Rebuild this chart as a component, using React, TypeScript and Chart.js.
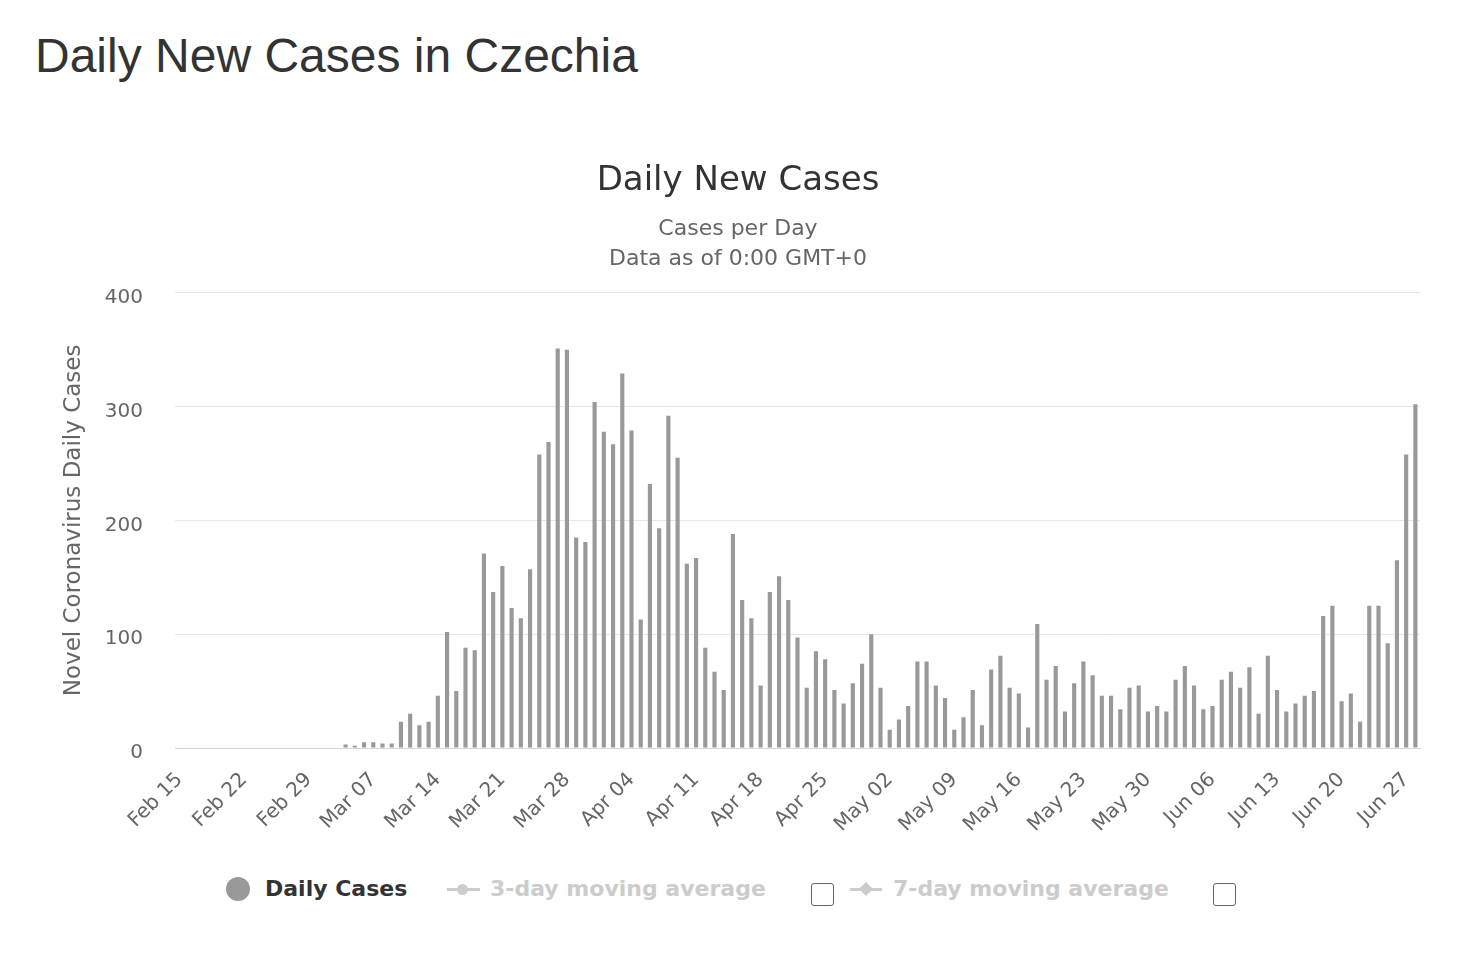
import React, { useEffect, useRef } from 'react';
import { Chart, registerables } from 'chart.js';

Chart.register(...registerables);

// Months covered by the category axis: [month, first day, last day]
const monthSpans: [string, number, number][] = [
  ['Feb', 15, 29],
  ['Mar', 1, 31],
  ['Apr', 1, 30],
  ['May', 1, 31],
  ['Jun', 1, 28],
];

const categories: string[] = [];
monthSpans.forEach(([m, a, b]) => {
  for (let d = a; d <= b; d++) categories.push(`${m} ${d < 10 ? '0' + d : d}`);
});

// Feb 15 .. Mar 03 : no cases reported
const casesFebToMar03: number[] = [
  0, 0, 0, 0, 0, 0, 0, 0, 0, 0, 0, 0, 0, 0, 0, 0, 0, 0,
];
// Mar 04 .. Mar 31
const casesMar: number[] = [
  3, 2, 5, 5, 4, 4, 23, 30, 20, 23, 46, 102, 50, 88, 86, 171, 137, 160, 123, 114,
  157, 258, 269, 351, 350, 185, 181, 304,
];
// Apr 01 .. Apr 30
const casesApr: number[] = [
  278, 267, 329, 279, 113, 232, 193, 292, 255, 162, 167, 88, 67, 51, 188, 130, 114, 55,
  137, 151, 130, 97, 53, 85, 78, 51, 39, 57, 74, 100,
];
// May 01 .. May 31
const casesMay: number[] = [
  53, 16, 25, 37, 76, 76, 55, 44, 16, 27, 51, 20, 69, 81, 53, 48, 18, 109, 60, 72,
  32, 57, 76, 64, 46, 46, 34, 53, 55, 32, 37,
];
// Jun 01 .. Jun 28
const casesJun: number[] = [
  32, 60, 72, 55, 34, 37, 60, 67, 53, 71, 30, 81, 51, 32, 39, 46, 50, 116, 125, 41,
  48, 23, 125, 125, 92, 165, 258, 302,
];

const dailyCases: number[] = [
  ...casesFebToMar03,
  ...casesMar,
  ...casesApr,
  ...casesMay,
  ...casesJun,
];

const yTicks: number[] = [0, 100, 200, 300, 400];
const xLabelEvery = 7;

const FONT = '"DejaVu Sans", "Lucida Grande", sans-serif';

export default function App() {
  const ref = useRef<HTMLCanvasElement | null>(null);

  useEffect(() => {
    document.body.style.margin = '0';
    if (!ref.current) return;
    const chart = new Chart(ref.current, {
      type: 'bar',
      data: {
        labels: categories,
        datasets: [
          {
            label: 'Daily Cases',
            data: dailyCases,
            backgroundColor: '#999999',
            borderWidth: 0,
            barPercentage: 0.45,
            categoryPercentage: 1,
          },
        ],
      },
      options: {
        responsive: false,
        animation: false,
        devicePixelRatio: 1,
        layout: { padding: { left: 56, right: 40, top: 0, bottom: 0 } },
        plugins: {
          legend: { display: false },
          tooltip: { enabled: false },
          title: {
            display: true,
            text: 'Daily New Cases',
            color: '#333333',
            font: { family: FONT, size: 34, weight: 'normal', lineHeight: 1.2 },
            padding: { top: 21, bottom: 6 },
          },
          subtitle: {
            display: true,
            text: ['Cases per Day', 'Data as of 0:00 GMT+0'],
            color: '#666666',
            font: { family: FONT, size: 22, weight: 'normal', lineHeight: 1.364 },
            padding: { top: 6, bottom: 19 },
          },
        },
        scales: {
          x: {
            grid: { display: false, drawTicks: false },
            border: { display: true, color: '#ccd6eb', width: 1 },
            ticks: {
              autoSkip: false,
              maxRotation: 45,
              minRotation: 45,
              padding: 20,
              color: '#666666',
              font: { family: FONT, size: 20 },
              callback: (_v: any, i: number) => (i % xLabelEvery === 0 ? categories[i] : ''),
            },
            afterFit: (s: any) => {
              s.height = 92;
            },
          },
          y: {
            min: yTicks[0],
            max: yTicks[yTicks.length - 1],
            afterBuildTicks: (s: any) => {
              s.ticks = yTicks.map((v) => ({ value: v }));
            },
            ticks: {
              padding: 32,
              labelOffset: 5,
              color: '#666666',
              font: { family: FONT, size: 20 },
            },
            grid: {
              drawTicks: false,
              color: (c: any) => (c.tick && c.tick.value === 0 ? '#ccd6eb' : '#e6e6e6'),
            },
            border: { display: false },
            title: {
              display: true,
              text: 'Novel Coronavirus Daily Cases',
              color: '#666666',
              font: { family: FONT, size: 23 },
              padding: { top: 4, bottom: 4 },
            },
            afterFit: (s: any) => {
              s.width = 119;
            },
          },
        },
      },
    } as any);
    return () => chart.destroy();
  }, []);

  const legendText: React.CSSProperties = {
    position: 'absolute',
    top: 876,
    fontFamily: FONT,
    fontWeight: 'bold',
    fontSize: 22,
    lineHeight: '26px',
    whiteSpace: 'nowrap',
  };
  const box: React.CSSProperties = {
    position: 'absolute',
    top: 883,
    width: 21,
    height: 21,
    border: '1.5px solid #666',
    borderRadius: 3,
    background: '#fff',
  };

  return (
    <div style={{ position: 'absolute', left: 0, top: 0, width: 1460, height: 956, background: '#fff' }}>
      <div
        style={{
          position: 'absolute',
          left: 35,
          top: 29,
          fontFamily: '"Liberation Sans", Arial, sans-serif',
          fontSize: 48,
          lineHeight: '54px',
          color: '#333333',
          whiteSpace: 'nowrap',
        }}
      >
        Daily New Cases in Czechia
      </div>
      <canvas
        ref={ref}
        width={1460}
        height={700}
        style={{ position: 'absolute', left: 0, top: 140, width: 1460, height: 700 }}
      />
      {/* legend */}
      <div
        style={{
          position: 'absolute',
          left: 226,
          top: 877,
          width: 24,
          height: 24,
          borderRadius: '50%',
          background: '#999999',
        }}
      />
      <div style={{ ...legendText, left: 265, color: '#333333' }}>Daily Cases</div>
      <div style={{ position: 'absolute', left: 447, top: 888, width: 33, height: 3, background: '#cccccc' }} />
      <div
        style={{
          position: 'absolute',
          left: 457,
          top: 884,
          width: 11,
          height: 11,
          borderRadius: '50%',
          background: '#cccccc',
        }}
      />
      <div style={{ ...legendText, left: 490, color: '#cccccc' }}>3-day moving average</div>
      <div style={{ ...box, left: 811 }} />
      <div style={{ position: 'absolute', left: 850, top: 888, width: 32, height: 3, background: '#cccccc' }} />
      <div
        style={{
          position: 'absolute',
          left: 861,
          top: 884,
          width: 10,
          height: 10,
          transform: 'rotate(45deg)',
          background: '#cccccc',
        }}
      />
      <div style={{ ...legendText, left: 893, color: '#cccccc' }}>7-day moving average</div>
      <div style={{ ...box, left: 1213 }} />
    </div>
  );
}
